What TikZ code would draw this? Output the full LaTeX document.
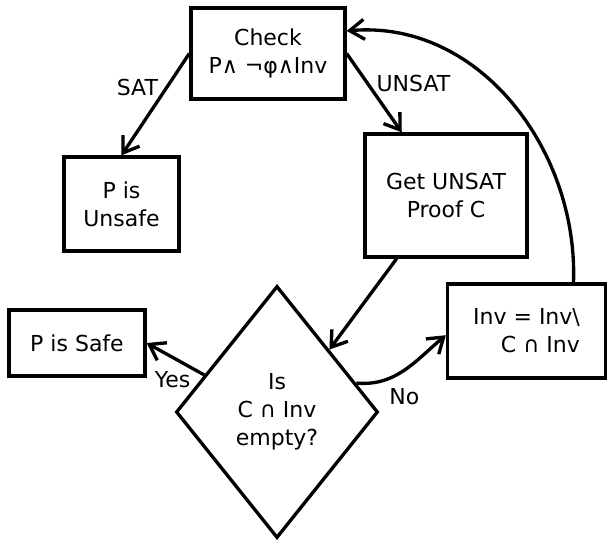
\documentclass[tikz,border=0pt]{standalone}
\usepackage{fontspec}
\setmainfont{DejaVu Sans}
\usepackage{tikz}
\usetikzlibrary{shapes.geometric,arrows.meta}

\tikzset{
  box/.style={draw, line width=2.5pt, align=center, inner sep=0pt},
  choice/.style={draw, diamond, line width=2.5pt, align=center, inner sep=0pt},
  flow/.style={->, line width=2.5pt},
}

\begin{document}
\begin{tikzpicture}[x=0.75pt, y=-0.75pt, >={Straight Barb[length=11pt,width=15pt]}]

  \fontsize{16.5}{21}\selectfont

  \useasboundingbox (0,0) rectangle (608,541);

  % steps of the loop
  \node[box, minimum width=115.5pt, minimum height=68.25pt] (check) at (268,53.5)
    {Check\\P∧ ¬φ∧Inv};
  \node[box, minimum width=86.25pt, minimum height=70.5pt] (unsafe) at (121.5,204)
    {P is\\Unsafe};
  \node[box, minimum width=121.5pt, minimum height=92.25pt] (proof) at (446,195.5)
    {Get UNSAT\\Proof C};
  \node[box, minimum width=102pt, minimum height=49.5pt] (safe) at (77,343)
    {P is Safe};
  \node[choice, minimum width=151.5pt, minimum height=189pt] (empty) at (277,412)
    {Is\\C ∩ Inv\\empty?};
  \node[box, minimum width=118.5pt, minimum height=70.5pt, align=right] (inv) at (526.5,331)
    {Inv = Inv\textbackslash\\C ∩ Inv};

  % connectors
  \draw[flow] (check.west) -- node[pos=0.33, left]{SAT} (unsafe.north);
  \draw[flow] (check.east) -- node[pos=0.38, right]{UNSAT} (proof.125);
  \draw[flow] (proof.-128) -- (empty.50);
  \draw[flow] (empty.153) -- node[pos=0.55, below, yshift=-4pt]{Yes} (safe.east);
  \draw[flow] (empty.20) to[out=-5, in=220]
    node[pos=0.45, below, yshift=-5pt, xshift=3pt]{No} (inv.183);
  \draw[flow] (inv.46) to[out=88, in=5] (check.16);

\end{tikzpicture}
\end{document}
